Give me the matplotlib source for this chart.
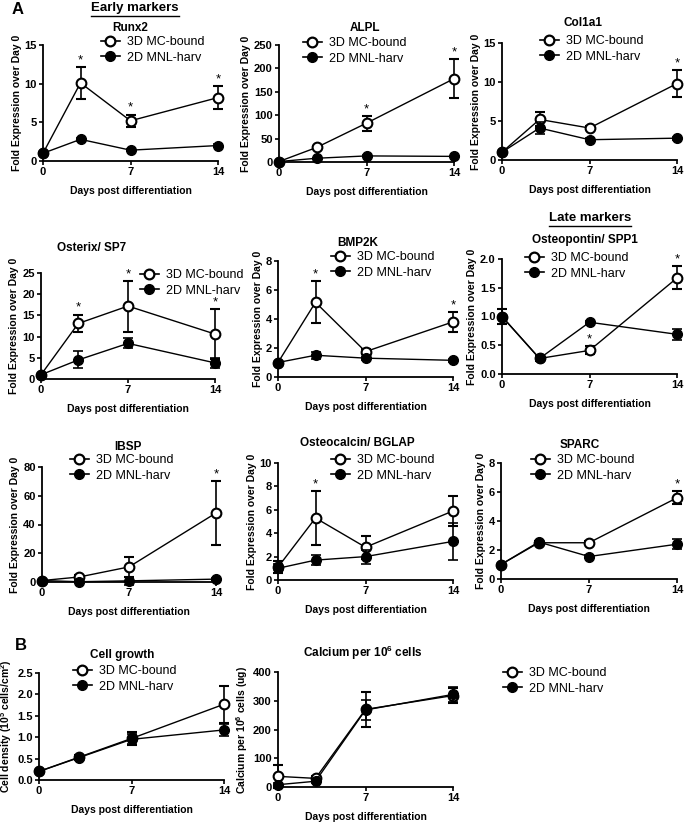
import numpy as np
from matplotlib import pyplot as plt
from matplotlib.lines import Line2D

plt.rcParams['font.family'] = ['Liberation Sans', 'DejaVu Sans']
plt.rcParams['mathtext.default'] = 'regular'

W, H = 685, 826
days = [0, 3, 7, 14]
labels = ['3D MC-bound', '2D MNL-harv']

runx2_3d = [1.0, 10.1, 5.2, 8.2]
runx2_3d_err = [0.0, 2.1, 0.8, 1.5]
runx2_2d = [1.0, 2.8, 1.4, 2.0]
runx2_2d_err = [0.1, 0.2, 0.1, 0.15]

alpl_3d = [1, 31, 83, 178]
alpl_3d_err = [0, 3, 16, 42]
alpl_2d = [1, 8, 13, 12]
alpl_2d_err = [0, 1, 1, 1]

col1a1_3d = [1.0, 5.2, 4.1, 9.8]
col1a1_3d_err = [0.0, 0.9, 0.3, 1.7]
col1a1_2d = [1.0, 4.1, 2.6, 2.8]
col1a1_2d_err = [0.0, 0.8, 0.2, 0.2]

osx_3d = [1.0, 13.1, 17.2, 10.6]
osx_3d_err = [0.0, 2.1, 6.0, 5.9]
osx_2d = [1.0, 4.5, 8.4, 3.8]
osx_2d_err = [0.0, 2.0, 1.2, 1.1]

bmp2k_3d = [1.0, 5.15, 1.75, 3.8]
bmp2k_3d_err = [0.0, 1.45, 0.15, 0.7]
bmp2k_2d = [1.0, 1.5, 1.3, 1.15]
bmp2k_2d_err = [0.0, 0.25, 0.1, 0.1]

opn_3d = [1.0, 0.27, 0.41, 1.67]
opn_3d_err = [0.13, 0.05, 0.07, 0.2]
opn_2d = [1.0, 0.27, 0.9, 0.69]
opn_2d_err = [0.13, 0.05, 0.03, 0.09]

ibsp_3d = [1.0, 3.5, 10.5, 48.0]
ibsp_3d_err = [0.0, 1.5, 7.0, 22.5]
ibsp_2d = [1.0, 0.2, 0.8, 2.0]
ibsp_2d_err = [0.0, 0.3, 3.0, 0.5]

ocn_3d = [1.1, 5.3, 2.8, 5.9]
ocn_3d_err = [0.5, 2.3, 1.0, 1.3]
ocn_2d = [1.0, 1.7, 2.0, 3.3]
ocn_2d_err = [0.4, 0.4, 0.6, 1.6]

sparc_3d = [1.0, 2.5, 2.5, 5.6]
sparc_3d_err = [0.0, 0.1, 0.1, 0.45]
sparc_2d = [1.0, 2.55, 1.55, 2.4]
sparc_2d_err = [0.0, 0.1, 0.1, 0.35]

cells_3d = [0.2, 0.53, 0.97, 1.77]
cells_3d_err = [0.02, 0.05, 0.15, 0.43]
cells_2d = [0.2, 0.52, 0.95, 1.17]
cells_2d_err = [0.02, 0.05, 0.12, 0.15]

calcium_3d = [37, 30, 270, 318]
calcium_3d_err = [40, 10, 60, 25]
calcium_2d = [8, 20, 268, 322]
calcium_2d_err = [5, 5, 35, 25]

fold_label = 'Fold Expression over Day 0'

# name, 3d, 3d err, 2d, 2d err, yticks, ticklabels, star days, box (left, right, top, bottom px),
# title pos, legend pos (top-left px) or None, ylabel
panels = [
    ('Runx2', runx2_3d, runx2_3d_err, runx2_2d, runx2_2d_err, [0, 5, 10, 15], None, [3, 7, 14],
     (43, 218, 45, 161), (130, 28), (101, 36), fold_label),
    ('ALPL', alpl_3d, alpl_3d_err, alpl_2d, alpl_2d_err, [0, 50, 100, 150, 200, 250], None, [7, 14],
     (279, 454, 45, 162), (365, 28), (303, 37), fold_label),
    ('Col1a1', col1a1_3d, col1a1_3d_err, col1a1_2d, col1a1_2d_err, [0, 5, 10, 15], None, [14],
     (502, 677, 43, 160), (583, 23), (540, 35), fold_label),
    ('Osterix/ SP7', osx_3d, osx_3d_err, osx_2d, osx_2d_err, [0, 5, 10, 15, 20, 25], None, [3, 7, 14],
     (41, 215, 273, 379), (92, 248), (140, 269), fold_label),
    ('BMP2K', bmp2k_3d, bmp2k_3d_err, bmp2k_2d, bmp2k_2d_err, [0, 2, 4, 6, 8], None, [3, 14],
     (278, 453, 261, 377), (358, 243), (331, 251), fold_label),
    ('Osteopontin/ SPP1', opn_3d, opn_3d_err, opn_2d, opn_2d_err, [0, 0.5, 1.0, 1.5, 2.0],
     ['0.0', '0.5', '1.0', '1.5', '2.0'], [7, 14],
     (502, 677, 259, 374), (585, 240), (525, 252), fold_label),
    ('IBSP', ibsp_3d, ibsp_3d_err, ibsp_2d, ibsp_2d_err, [0, 20, 40, 60, 80], None, [14],
     (42, 216, 467, 582), (128, 447), (70, 454), fold_label),
    ('Osteocalcin/ BGLAP', ocn_3d, ocn_3d_err, ocn_2d, ocn_2d_err, [0, 2, 4, 6, 8, 10], None, [3],
     (278, 453, 463, 580), (357, 443), (331, 454), fold_label),
    ('SPARC', sparc_3d, sparc_3d_err, sparc_2d, sparc_2d_err, [0, 2, 4, 6, 8], None, [14],
     (501, 677, 463, 579), (580, 445), (531, 454), fold_label),
    ('Cell growth', cells_3d, cells_3d_err, cells_2d, cells_2d_err, [0, 0.5, 1.0, 1.5, 2.0, 2.5],
     ['0.0', '0.5', '1.0', '1.5', '2.0', '2.5'], [],
     (39, 224, 673, 780), (122, 655), (73, 665), 'Cell density (10$^5$ cells/cm$^2$)'),
    ('Calcium per 10$^6$ cells', calcium_3d, calcium_3d_err, calcium_2d, calcium_2d_err,
     [0, 100, 200, 300, 400], None, [],
     (278, 453, 672, 787), (363, 653), None, 'Calcium per 10$^6$ cells (ug)'),
]

fig = plt.figure(figsize=(W / 100, H / 100), dpi=100)


def fx(x):
    return x / W


def fy(y):
    return 1 - y / H


# legend proxies: line through marker, no error bar
handles = [
    Line2D([], [], color='black', lw=1.2, marker='o', ms=7, mfc='white', mec='black', mew=1.6),
    Line2D([], [], color='black', lw=1.2, marker='o', ms=7, mfc='black', mec='black'),
]
leg_kw = dict(frameon=False, fontsize=9, borderpad=0, handlelength=1.5, handletextpad=0.6,
              labelspacing=0.3, borderaxespad=0)

for (name, d3, e3, d2, e2, yt, ytl, stars, box, tpos, lpos, ylab) in panels:
    l, r, t, b = box
    ax = fig.add_axes([fx(l), fy(b), (r - l) / W, (b - t) / H])
    h3 = ax.errorbar(days, d3, yerr=e3, color='black', lw=1, marker='o', ms=7,
                     mfc='white', mec='black', mew=1.5, capsize=3.5, elinewidth=1.2,
                     capthick=1.2, clip_on=False, zorder=3)
    h2 = ax.errorbar(days, d2, yerr=e2, color='black', lw=1, marker='o', ms=7,
                     mfc='black', mec='black', capsize=3.5, elinewidth=1.2,
                     capthick=1.2, clip_on=False, zorder=4)
    for line in list(h3.lines[1]) + list(h3.lines[2]) + list(h2.lines[1]) + list(h2.lines[2]):
        line.set_clip_on(False)

    ax.set_xlim(0, 14)
    ax.set_ylim(yt[0], yt[-1])
    ax.set_xticks([0, 7, 14])
    ax.set_yticks(yt)
    if ytl is not None:
        ax.set_yticklabels(ytl)
    for s in ['top', 'right']:
        ax.spines[s].set_visible(False)
    for s in ['left', 'bottom']:
        ax.spines[s].set_linewidth(1.3)
    ax.tick_params(width=1.2, length=3, labelsize=8, pad=1.5)
    for lab in ax.get_xticklabels() + ax.get_yticklabels():
        lab.set_fontweight('bold')

    ax.set_ylabel(ylab, fontsize=7.5, fontweight='bold', labelpad=2)
    ax.set_xlabel('Days post differentiation', fontsize=7.5, fontweight='bold', labelpad=6)

    fig.text(fx(tpos[0]), fy(tpos[1]), name, ha='center', va='center', fontsize=8.5,
             fontweight='bold')

    for sd in stars:
        i = days.index(sd)
        ax.annotate('*', (sd, d3[i] + e3[i]), xytext=(0, 0.5), textcoords='offset points',
                    ha='center', va='bottom', fontsize=9.5, annotation_clip=False)

    if lpos is not None:
        ax.legend(handles, labels, loc='upper left', bbox_to_anchor=(fx(lpos[0]), fy(lpos[1])),
                  bbox_transform=fig.transFigure, **leg_kw)

# standalone legend for the calcium panel
fig.legend(handles, labels, loc='upper left', bbox_to_anchor=(fx(503), fy(667)), **leg_kw)

# panel letters and underlined section headings
fig.text(fx(12), fy(9), 'A', fontsize=12, fontweight='bold', ha='left', va='center')
fig.text(fx(15), fy(645), 'B', fontsize=12, fontweight='bold', ha='left', va='center')

fig.canvas.draw()
renderer = fig.canvas.get_renderer()
for txt, cx, cy in [('Early markers', 135, 8), ('Late markers', 590, 218)]:
    t = fig.text(fx(cx), fy(cy), txt, fontsize=9.5, fontweight='bold', ha='center', va='center')
    bb = t.get_window_extent(renderer=renderer)
    uy = fy(cy + 8)
    fig.add_artist(Line2D([bb.x0 / W, bb.x1 / W], [uy, uy], color='black', lw=1,
                          transform=fig.transFigure))

fig.savefig('out.png', dpi=100)
